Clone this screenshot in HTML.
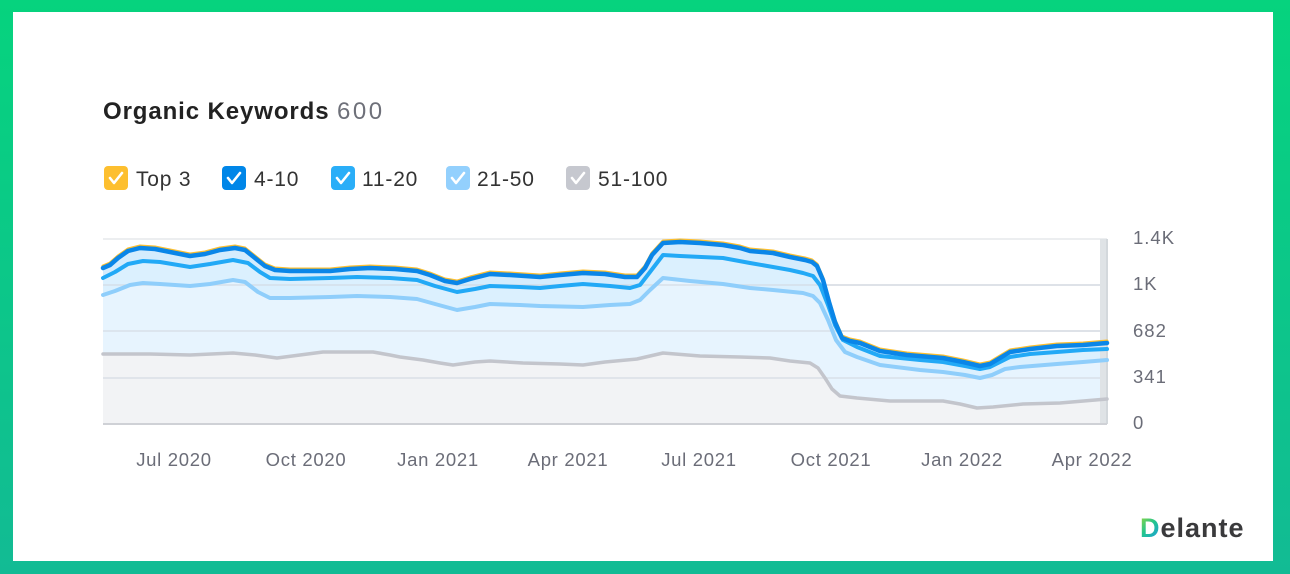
<!DOCTYPE html>
<html><head><meta charset="utf-8"><style>
html,body{margin:0;padding:0;width:1290px;height:574px;overflow:hidden;background:#fff}
svg{display:block}
text{font-family:"Liberation Sans",Arial,sans-serif}
</style></head><body>
<svg width="1290" height="574" viewBox="0 0 1290 574" xmlns="http://www.w3.org/2000/svg">
<defs>
<linearGradient id="bd" x1="0" y1="0" x2="0" y2="1">
<stop offset="0" stop-color="#06d37e"/><stop offset="1" stop-color="#12bb94"/>
</linearGradient>
<linearGradient id="dg" gradientUnits="userSpaceOnUse" x1="1140" y1="517" x2="1162" y2="538">
<stop offset="0" stop-color="#8fd540"/><stop offset="0.45" stop-color="#22c58f"/><stop offset="1" stop-color="#1b98e6"/>
</linearGradient>
</defs>
<rect x="0" y="0" width="1290" height="574" fill="url(#bd)"/>
<rect x="13" y="12" width="1260" height="549" fill="#ffffff"/>

<!-- title -->
<text x="103" y="119" font-size="24" font-weight="bold" fill="#222" letter-spacing="0.9">Organic Keywords <tspan font-weight="normal" fill="#6e7079" letter-spacing="2.5">600</tspan></text>

<!-- legend -->
<g font-size="21" fill="#333" letter-spacing="0.8">
<rect x="104" y="166" width="24" height="24" rx="4" fill="#fdbf2f"/>
<polyline points="110,178 114,183 122,173" fill="none" stroke="#fff" stroke-width="2.6" stroke-linecap="round" stroke-linejoin="round"/>
<text x="136" y="186">Top 3</text>
<rect x="222" y="166" width="24" height="24" rx="4" fill="#0086e8"/>
<polyline points="228,178 232,183 240,173" fill="none" stroke="#fff" stroke-width="2.6" stroke-linecap="round" stroke-linejoin="round"/>
<text x="254" y="186">4-10</text>
<rect x="331" y="166" width="24" height="24" rx="4" fill="#2aaef8"/>
<polyline points="337,178 341,183 349,173" fill="none" stroke="#fff" stroke-width="2.6" stroke-linecap="round" stroke-linejoin="round"/>
<text x="362" y="186">11-20</text>
<rect x="446" y="166" width="24" height="24" rx="4" fill="#93d0fd"/>
<polyline points="452,178 456,183 464,173" fill="none" stroke="#fff" stroke-width="2.6" stroke-linecap="round" stroke-linejoin="round"/>
<text x="477" y="186">21-50</text>
<rect x="566" y="166" width="24" height="24" rx="4" fill="#c6c8cf"/>
<polyline points="572,178 576,183 584,173" fill="none" stroke="#fff" stroke-width="2.6" stroke-linecap="round" stroke-linejoin="round"/>
<text x="598" y="186">51-100</text>
</g>

<!-- gridlines -->
<g stroke="#e6e8ec" stroke-width="1.5">
<line x1="103" y1="239" x2="1107" y2="239"/>
<line x1="103" y1="285" x2="1107" y2="285"/>
<line x1="103" y1="331" x2="1107" y2="331"/>
<line x1="103" y1="378" x2="1107" y2="378"/>
</g>

<!-- fills -->
<polygon fill="#d4ecfd" points="103,268 110,265 118,258 128,251 140,248 155,249 170,252 190,256 205,254 220,250 235,248 245,250 255,258 265,266 275,270 290,271 330,271 350,269 370,268 395,269 417,271 430,275 445,281 457,283 470,279 490,274 510,275 540,277 560,275 583,273 605,274 625,277 637,277 645,268 652,255 663,243 680,242 700,243 723,245 740,248 750,251 773,253 790,257 805,260 812,262 817,266 823,280 829,302 835,322 842,338 850,341 860,343 870,347 880,351 907,355 943,358 963,362 980,366 990,364 1000,358 1010,352 1030,349 1057,346 1083,345 1107,343 1107,424 103,424"/>
<polygon fill="#dbf0fe" points="103,278 115,272 128,264 143,261 160,262 190,267 210,264 233,260 248,263 260,272 270,278 290,279 330,278 357,277 390,278 417,280 435,286 457,292 475,289 490,286 520,287 540,288 560,286 583,284 610,286 630,288 640,285 650,272 663,255 680,256 723,258 750,263 773,267 790,270 803,273 813,276 820,285 828,305 835,325 843,340 857,347 880,356 920,360 943,362 965,366 980,369 990,367 1000,362 1010,357 1030,354 1057,352 1083,350 1107,349 1107,424 103,424"/>
<polygon fill="#e7f4fe" points="103,295 115,291 130,285 143,283 160,284 190,286 210,284 233,280 245,282 258,292 270,298 290,298 330,297 357,296 390,297 417,299 435,304 457,310 475,307 490,304 520,305 540,306 583,307 610,305 630,304 640,300 650,290 663,278 690,281 723,284 750,288 773,290 803,293 813,296 820,303 828,320 836,340 845,352 857,357 880,365 920,370 943,372 965,375 980,378 992,375 1005,369 1020,367 1057,364 1083,362 1107,360 1107,424 103,424"/>
<polygon fill="#f2f3f5" points="103,354 150,354 190,355 233,353 255,355 277,358 300,355 323,352 373,352 390,355 400,357 423,360 440,363 453,365 475,362 490,361 523,363 560,364 583,365 605,362 637,359 663,353 700,356 740,357 770,358 790,361 810,363 818,368 825,378 832,389 840,396 857,398 890,401 943,401 960,404 977,408 993,407 1023,404 1060,403 1107,399 1107,424 103,424"/>

<!-- gridlines over fills (faint) -->
<g stroke="#d2d8e0" stroke-width="1.5" opacity="0.7">
<line x1="103" y1="285" x2="1100" y2="285"/>
<line x1="103" y1="331" x2="1100" y2="331"/>
<line x1="103" y1="378" x2="1100" y2="378"/>
</g>

<!-- hover bar -->
<rect x="1100" y="239" width="8" height="185" fill="#dfe3e6"/>
<line x1="1107" y1="239" x2="1107" y2="424" stroke="#cfd4d8" stroke-width="1.5"/>

<!-- baseline -->
<line x1="103" y1="424" x2="1107" y2="424" stroke="#cfd1d6" stroke-width="2"/>

<!-- lines -->
<g fill="none" stroke-linejoin="round" stroke-linecap="round">
<polyline stroke="#c3c5cc" stroke-width="3.5" points="103,354 150,354 190,355 233,353 255,355 277,358 300,355 323,352 373,352 390,355 400,357 423,360 440,363 453,365 475,362 490,361 523,363 560,364 583,365 605,362 637,359 663,353 700,356 740,357 770,358 790,361 810,363 818,368 825,378 832,389 840,396 857,398 890,401 943,401 960,404 977,408 993,407 1023,404 1060,403 1107,399"/>
<polyline stroke="#8fcefb" stroke-width="4" points="103,295 115,291 130,285 143,283 160,284 190,286 210,284 233,280 245,282 258,292 270,298 290,298 330,297 357,296 390,297 417,299 435,304 457,310 475,307 490,304 520,305 540,306 583,307 610,305 630,304 640,300 650,290 663,278 690,281 723,284 750,288 773,290 803,293 813,296 820,303 828,320 836,340 845,352 857,357 880,365 920,370 943,372 965,375 980,378 992,375 1005,369 1020,367 1057,364 1083,362 1107,360"/>
<polyline stroke="#22a9f6" stroke-width="4" points="103,278 115,272 128,264 143,261 160,262 190,267 210,264 233,260 248,263 260,272 270,278 290,279 330,278 357,277 390,278 417,280 435,286 457,292 475,289 490,286 520,287 540,288 560,286 583,284 610,286 630,288 640,285 650,272 663,255 680,256 723,258 750,263 773,267 790,270 803,273 813,276 820,285 828,305 835,325 843,340 857,347 880,356 920,360 943,362 965,366 980,369 990,367 1000,362 1010,357 1030,354 1057,352 1083,350 1107,349"/>
<polyline stroke="#fdbf2f" stroke-width="3" points="103,266 110,263 118,256 128,249 140,246 155,247 170,250 190,254 205,252 220,248 235,246 245,248 255,256 265,264 275,268 290,269 330,269 350,267 370,266 395,267 417,269 430,273 445,279 457,281 470,277 490,272 510,273 540,275 560,273 583,271 605,272 625,275 637,275 645,266 652,253 663,241 680,240 700,241 723,243 740,246 750,249 773,251 790,255 805,258 812,260 817,264 823,278 829,300 835,320 842,336 850,339 860,341 870,345 880,349 907,353 943,356 963,360 980,364 990,362 1000,356 1010,350 1030,347 1057,344 1083,343 1107,341"/>
<polyline stroke="#0a86e8" stroke-width="4.5" points="103,268 110,265 118,258 128,251 140,248 155,249 170,252 190,256 205,254 220,250 235,248 245,250 255,258 265,266 275,270 290,271 330,271 350,269 370,268 395,269 417,271 430,275 445,281 457,283 470,279 490,274 510,275 540,277 560,275 583,273 605,274 625,277 637,277 645,268 652,255 663,243 680,242 700,243 723,245 740,248 750,251 773,253 790,257 805,260 812,262 817,266 823,280 829,302 835,322 842,338 850,341 860,343 870,347 880,351 907,355 943,358 963,362 980,366 990,364 1000,358 1010,352 1030,349 1057,346 1083,345 1107,343"/>
</g>

<!-- x labels -->
<g font-size="18.5" fill="#6b6d78" text-anchor="middle" letter-spacing="0.7">
<text x="174" y="466">Jul 2020</text>
<text x="306" y="466">Oct 2020</text>
<text x="438" y="466">Jan 2021</text>
<text x="568" y="466">Apr 2021</text>
<text x="699" y="466">Jul 2021</text>
<text x="831" y="466">Oct 2021</text>
<text x="962" y="466">Jan 2022</text>
<text x="1092" y="466">Apr 2022</text>
</g>

<!-- y labels -->
<g font-size="18.5" fill="#6b6d78" letter-spacing="1">
<text x="1133" y="244">1.4K</text>
<text x="1133" y="290">1K</text>
<text x="1133" y="337">682</text>
<text x="1133" y="383">341</text>
<text x="1133" y="429">0</text>
</g>

<!-- logo -->
<text x="1140" y="537" font-size="27" font-weight="bold" fill="#3a3a3c" letter-spacing="1"><tspan fill="url(#dg)">D</tspan>elante</text>
</svg>
</body></html>
